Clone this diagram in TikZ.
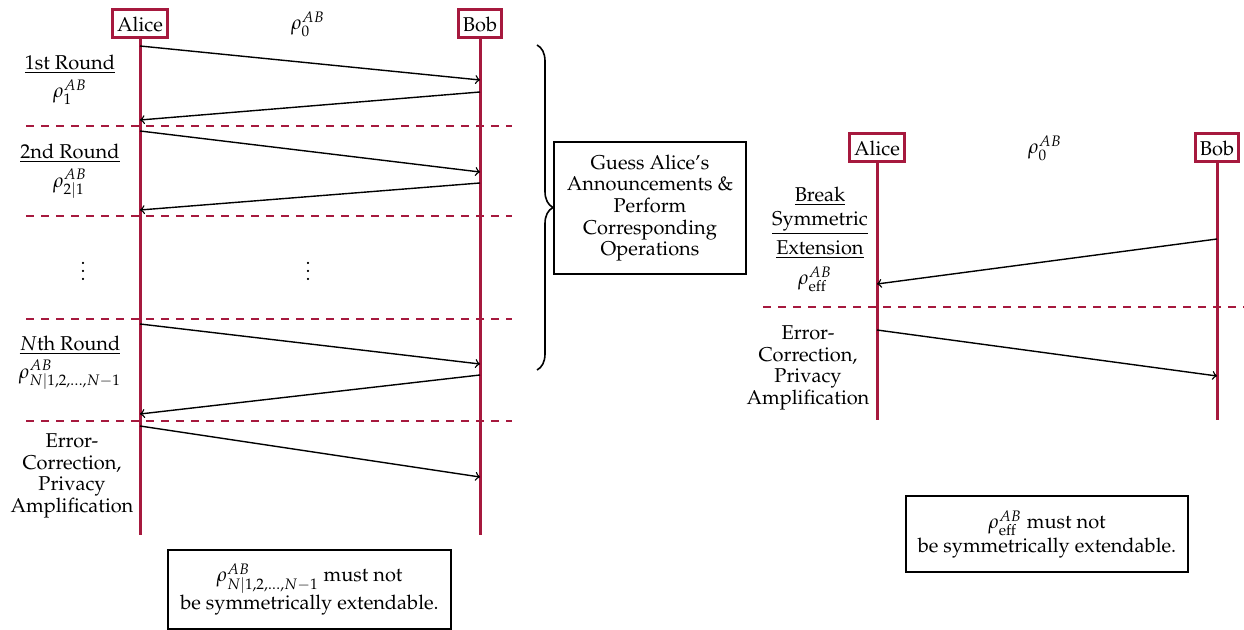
\documentclass[tikz,border=0pt]{standalone}
\usepackage[T1]{fontenc}
\usepackage{mathpazo}
\usetikzlibrary{decorations.pathreplacing}
\definecolor{crim}{RGB}{166,25,62}
\tikzset{
  actor/.style={draw=crim, line width=1.5pt, fill=white, inner xsep=2.4pt, minimum height=14pt, inner ysep=1pt},
  life/.style={draw=crim, line width=1.5pt},
  sep/.style={draw=crim, line width=0.9pt, dash pattern=on 4pt off 3.5pt},
  msg/.style={draw=black, line width=0.7pt, ->},
  lbl/.style={align=center, font=\fontsize{10}{10.8}\selectfont, inner sep=0pt},
  infobox/.style={draw=black, line width=0.8pt, align=center, font=\fontsize{10}{10.8}\selectfont},
}
\begin{document}
\begin{tikzpicture}[x=0.5pt, y=-0.5pt]
\useasboundingbox (0,0) rectangle (1244,630);
% ---------- left diagram ----------
\node[actor] (A1) at (140,24) {Alice};
\node[actor] (B1) at (480,24) {Bob};
\node[lbl] (r0) at (308,24) {$\rho_0^{AB}$};
\coordinate (A1e) at (140,535);
\coordinate (B1e) at (480,535);
\draw[life] (A1.south) -- (A1e);
\draw[life] (B1.south) -- (B1e);
% separators
\coordinate (s1a) at (26,126); \coordinate (s1b) at (512,126);
\coordinate (s2a) at (26,216); \coordinate (s2b) at (512,216);
\coordinate (s3a) at (26,319); \coordinate (s3b) at (512,319);
\coordinate (s4a) at (26,421); \coordinate (s4b) at (512,421);
\draw[sep] (s1a) -- (s1b);
\draw[sep] (s2a) -- (s2b);
\draw[sep] (s3a) -- (s3b);
\draw[sep] (s4a) -- (s4b);
% messages
\coordinate (m1a) at (140,46);  \coordinate (m1b) at (480,80);
\coordinate (m2a) at (480,92);  \coordinate (m2b) at (140,120);
\coordinate (m3a) at (140,131); \coordinate (m3b) at (480,172);
\coordinate (m4a) at (480,183); \coordinate (m4b) at (140,210);
\coordinate (m5a) at (140,324); \coordinate (m5b) at (480,364);
\coordinate (m6a) at (480,375); \coordinate (m6b) at (140,414);
\coordinate (m7a) at (140,426); \coordinate (m7b) at (480,477);
\draw[msg] (m1a) -- (m1b);
\draw[msg] (m2a) -- (m2b);
\draw[msg] (m3a) -- (m3b);
\draw[msg] (m4a) -- (m4b);
\draw[msg] (m5a) -- (m5b);
\draw[msg] (m6a) -- (m6b);
\draw[msg] (m7a) -- (m7b);
% labels
\node[lbl] (l1) at (70,64) {\underline{1st Round}};
\node[lbl] (l1r) at (70,92) {$\rho_1^{AB}$};
\node[lbl] (l2) at (70,153) {\underline{2nd Round}};
\node[lbl] (l2r) at (70,184) {$\rho_{2|1}^{AB}$};
\node[lbl] (d1) at (83,265) {$\vdots$};
\node[lbl] (d2) at (308,265) {$\vdots$};
\node[lbl] (l3) at (70,345) {\underline{$N$th Round}};
\node[lbl] (l3r) at (70,375) {$\rho_{N|1,2,\dots,N-1}^{AB}$};
\node[lbl] (ec1) at (72,476) {Error-\\Correction,\\Privacy\\Amplification};
\node[infobox, minimum width=141.5pt, minimum height=39.5pt] (bx1) at (309.5,589.5) {$\rho_{N|1,2,\dots,N-1}^{AB}$ must not\\be symmetrically extendable.};
% brace and guess box
\coordinate (brt) at (537,45);
\coordinate (brb) at (537,370);
\draw[line width=0.8pt, decorate, decoration={brace, amplitude=8pt}] (brt) -- (brb);
\node[infobox, minimum width=96pt, minimum height=66pt] (gb) at (650,208) {Guess Alice's\\Announcements \&\\Perform\\Corresponding\\Operations};
% ---------- right diagram ----------
\node[actor] (A2) at (877,148) {Alice};
\node[actor] (B2) at (1217,148) {Bob};
\node[lbl] (r0b) at (1045,148) {$\rho_0^{AB}$};
\coordinate (A2e) at (877,420);
\coordinate (B2e) at (1217,420);
\draw[life] (A2.south) -- (A2e);
\draw[life] (B2.south) -- (B2e);
\coordinate (s5a) at (763,307); \coordinate (s5b) at (1244,307);
\draw[sep] (s5a) -- (s5b);
\coordinate (n1a) at (1217,239); \coordinate (n1b) at (877,284);
\coordinate (n2a) at (877,330);  \coordinate (n2b) at (1217,376);
\draw[msg] (n1a) -- (n1b);
\draw[msg] (n2a) -- (n2b);
\node[lbl] (bk) at (820,223) {\underline{Break}\\[1pt]\underline{Symmetric}\\[2pt]\underline{Extension}};
\node[lbl] (bkr) at (815,279) {$\rho_{\mathrm{eff}}^{AB}$};
\node[lbl] (ec2) at (808,368) {Error-\\Correction,\\Privacy\\Amplification};
\node[infobox, minimum width=141pt, minimum height=38pt] (bx2) at (1047,534) {$\rho_{\mathrm{eff}}^{AB}$ must not\\be symmetrically extendable.};
\end{tikzpicture}
\end{document}
